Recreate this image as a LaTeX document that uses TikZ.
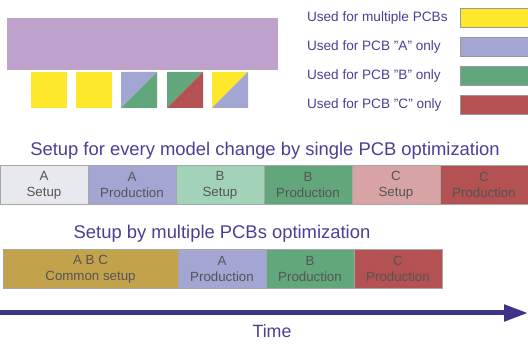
\documentclass[tikz,border=0pt]{standalone}
\usepackage{fontspec}
\setmainfont{Liberation Sans}
\usepackage{color}
\usetikzlibrary{positioning, arrows.meta}

\definecolor{multi}{HTML}{FDE82C}
\definecolor{pcbA}{HTML}{A3A6D3}
\definecolor{pcbB}{HTML}{62A77B}
\definecolor{pcbC}{HTML}{B45152}
\definecolor{setA}{HTML}{E8E9EE}
\definecolor{setB}{HTML}{A2D3B8}
\definecolor{setC}{HTML}{D8A3A5}
\definecolor{common}{HTML}{C2A24A}
\definecolor{board}{HTML}{BFA2CC}
\definecolor{ink}{HTML}{4B3F95}
\definecolor{axis}{HTML}{3C3585}
\definecolor{boxtext}{HTML}{555555}

\begin{document}
\begin{tikzpicture}[x=1pt, y=-1pt, node distance=0pt,
        every node/.style={inner sep=0pt, outer sep=0pt},
        slot/.style={draw=gray!70, line width=0.7pt, rectangle, align=center, minimum width=88pt, minimum height=39pt, text=boxtext, font=\fontsize{13.3}{16}\selectfont},
        part/.style={rectangle, minimum width=36pt, minimum height=36pt},
        swatch/.style={draw=gray!80, line width=0.6pt, rectangle, minimum width=70pt, minimum height=19pt, anchor=west},
        legend/.style={anchor=west, text=ink, font=\fontsize{13.6}{16}\selectfont},
        title/.style={text=ink, font=\fontsize{18.4}{22}\selectfont}]
        \useasboundingbox (0,0) rectangle (528,344);

        % Board and parts
        \node (Board) [rectangle, fill=board, minimum width=271pt, minimum height=52pt] at (142.5,44) {};
        \node (P1) [part, fill=multi] at (49,90) {};
        \node (P2) [part, fill=multi, right=9pt of P1] {};
        \node (P3) [part, right=9pt of P2] {};
        \node (P4) [part, right=10pt of P3] {};
        \node (P5) [part, right=9pt of P4] {};
        \fill[pcbA] (P3.south west) |- (P3.north east) -- cycle;
        \fill[pcbB] (P3.south west) -| (P3.north east) -- cycle;
        \fill[pcbB] (P4.south west) |- (P4.north east) -- cycle;
        \fill[pcbC] (P4.south west) -| (P4.north east) -- cycle;
        \fill[multi] (P5.south west) |- (P5.north east) -- cycle;
        \fill[pcbA] (P5.south west) -| (P5.north east) -- cycle;

        % Legend
        \node (LMulti) [legend] at (307,18) {Used for multiple PCBs};
        \node (LA) [legend] at (307,47) {Used for PCB "A" only};
        \node (LB) [legend] at (307,76) {Used for PCB "B" only};
        \node (LC) [legend] at (307,105) {Used for PCB "C" only};
        \node (KMulti) [swatch, fill=multi] at (460,18) {};
        \node (KA) [swatch, fill=pcbA] at (460,47) {};
        \node (KB) [swatch, fill=pcbB] at (460,76) {};
        \node (KC) [swatch, fill=pcbC] at (460,105) {};

        % Single PCB optimization
        \node (Single) [title] at (265,151) {Setup for every model change by single PCB optimization};
        \node (ASet) [slot, fill=setA] at (44,185) {A\\Setup};
        \node (AProd) [slot, fill=pcbA, right=of ASet] {A\\Production};
        \node (BSet) [slot, fill=setB, right=of AProd] {B\\Setup};
        \node (BProd) [slot, fill=pcbB, right=of BSet] {B\\Production};
        \node (CSet) [slot, fill=setC, right=of BProd] {C\\Setup};
        \node (CProd) [slot, fill=pcbC, right=of CSet] {C\\Production};

        % Multiple PCBs optimization
        \node (Multi) [title] at (222,234) {Setup by multiple PCBs optimization};
        \node (Common) [slot, fill=common, minimum width=175pt] at (90.5,269) {A B C\\Common setup};
        \node (AProd2) [slot, fill=pcbA, right=of Common] {A\\Production};
        \node (BProd2) [slot, fill=pcbB, right=of AProd2] {B\\Production};
        \node (CProd2) [slot, fill=pcbC, right=of BProd2] {C\\Production};

        % Time axis
        \coordinate (T0) at (0,313);
        \coordinate (T1) at (528,313);
        \draw[axis, line width=5pt, -{Triangle[length=24pt, width=16pt]}] (T0) -- (T1);
        \node (Time) [title, font=\fontsize{17.8}{21}\selectfont] at (272,331) {Time};
\end{tikzpicture}
\end{document}
